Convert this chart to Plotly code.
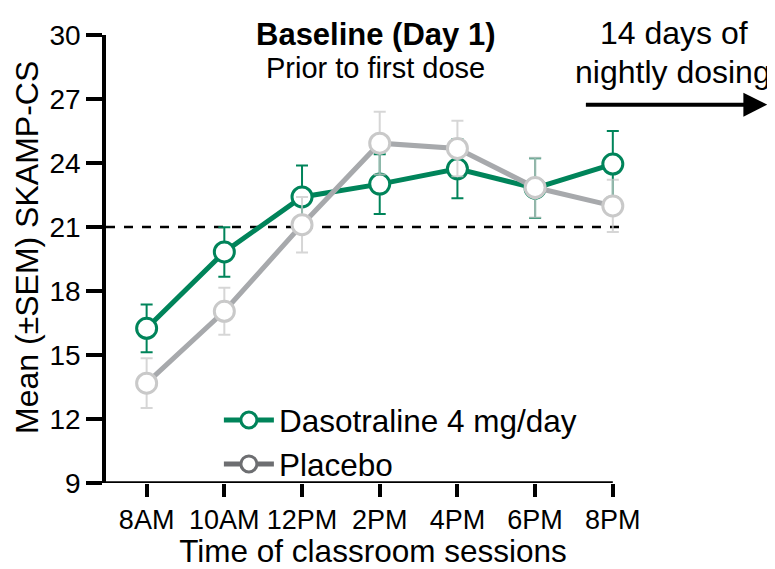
import plotly.graph_objects as go

times = ["8AM", "10AM", "12PM", "2PM", "4PM", "6PM", "8PM"]
daso_mean = [16.25, 19.83, 22.41, 23.01, 23.73, 22.82, 23.95]
daso_sem = [1.12, 1.16, 1.47, 1.40, 1.38, 1.40, 1.55]
plac_mean = [13.68, 17.05, 21.11, 24.93, 24.68, 22.85, 21.99]
plac_sem = [1.17, 1.10, 1.30, 1.47, 1.30, 1.40, 1.22]
y_ticks = [9, 12, 15, 18, 21, 24, 27, 30]
ref_line = 21

GREEN = "#00845a"
GRAY_LINE = "#a7a9ac"
GRAY_MK = "#c9c9c9"
GRAY_LEG = "#6d6e71"
FONT = "Liberation Sans, Arial, sans-serif"

xs = list(range(len(times)))

# figure pixel geometry (page has an 8px body margin)
W, H = 767, 561
ML, MT = 98, 17
PW, PH = 534.5, 463
MR = W - ML - PW
MB = H - MT - PH


def px(xf):
    return (xf - ML) / PW


def py(yf):
    return (MT + PH - yf) / PH


fig = go.Figure()

fig.add_trace(go.Scatter(
    x=xs, y=daso_mean, mode="lines+markers", showlegend=False,
    line=dict(color=GREEN, width=5),
    marker=dict(symbol="circle", size=20, color="white", line=dict(color=GREEN, width=3)),
    error_y=dict(type="data", array=daso_sem, color=GREEN, thickness=2, width=6),
    cliponaxis=False,
))
fig.add_trace(go.Scatter(
    x=xs, y=plac_mean, mode="lines+markers", showlegend=False,
    line=dict(color=GRAY_LINE, width=5),
    marker=dict(symbol="circle", size=20, color="white", line=dict(color=GRAY_MK, width=3)),
    error_y=dict(type="data", array=plac_sem, color="rgba(200,200,200,0.75)", thickness=2, width=6),
    cliponaxis=False,
))
# legend entries
fig.add_trace(go.Scatter(
    x=[None], y=[None], mode="lines+markers", name="Dasotraline 4 mg/day",
    line=dict(color=GREEN, width=5),
    marker=dict(symbol="circle", size=17, color="white", line=dict(color=GREEN, width=3)),
))
fig.add_trace(go.Scatter(
    x=[None], y=[None], mode="lines+markers", name="Placebo",
    line=dict(color=GRAY_LEG, width=5),
    marker=dict(symbol="circle", size=17, color="white", line=dict(color=GRAY_LEG, width=3)),
))

x_lo = -0.523
x_hi = 6.35
fig.add_shape(type="line", xref="x", yref="y", x0=x_lo, x1=xs[-1], y0=y_ticks[0], y1=y_ticks[0],
              line=dict(color="black", width=3.5), layer="above")
fig.add_shape(type="line", xref="x", yref="y", x0=x_lo, x1=xs[-1] + 0.086, y0=ref_line, y1=ref_line,
              line=dict(color="black", width=2.5, dash="dash"), layer="below")

fig.update_layout(
    width=W, height=H,
    margin=dict(l=ML, r=MR, t=MT, b=MB, pad=0),
    plot_bgcolor="white", paper_bgcolor="white",
    font=dict(family=FONT, color="black", size=27),
    xaxis=dict(
        range=[x_lo, x_hi], tickvals=xs, ticktext=times,
        showline=False, showgrid=False, zeroline=False,
        ticks="outside", ticklen=13, tickwidth=3.5, tickcolor="black",
        tickfont=dict(size=27),
        title=dict(text="Time of classroom sessions", font=dict(size=31.5), standoff=0),
    ),
    yaxis=dict(
        range=[9, 30], tickvals=y_ticks,
        showline=True, linecolor="black", linewidth=3.5,
        showgrid=False, zeroline=False,
        ticks="outside", ticklen=16, tickwidth=3.5, tickcolor="black",
        tickfont=dict(size=28),
    ),
    legend=dict(
        x=px(211), y=py(387), xanchor="left", yanchor="top",
        font=dict(size=31.5), bgcolor="rgba(0,0,0,0)", tracegroupgap=0,
        itemwidth=50,
    ),
    annotations=[
        dict(text="<b>Baseline (Day 1)</b>", xref="paper", yref="paper",
             x=px(368), y=py(16), showarrow=False,
             font=dict(size=31), xanchor="center", yanchor="middle"),
        dict(text="Prior to first dose", xref="paper", yref="paper",
             x=px(368), y=py(51), showarrow=False,
             font=dict(size=29), xanchor="center", yanchor="middle"),
        dict(text="14 days of", xref="paper", yref="paper",
             x=px(667), y=py(15), showarrow=False,
             font=dict(size=32), xanchor="center", yanchor="middle"),
        dict(text="nightly dosing", xref="paper", yref="paper",
             x=px(666), y=py(55), showarrow=False,
             font=dict(size=32), xanchor="center", yanchor="middle"),
        dict(text="", xref="paper", yref="paper",
             x=px(760), y=py(89),
             ax=-183, ay=0, axref="pixel", ayref="pixel",
             showarrow=True, arrowhead=2, arrowsize=1.2, arrowwidth=4, arrowcolor="black"),
        dict(text="Mean (±SEM) SKAMP-CS", xref="paper", yref="paper",
             x=px(19), y=py(237), showarrow=False, textangle=-90,
             font=dict(size=32), xanchor="center", yanchor="middle"),
    ],
)

fig.write_html("out.html")
